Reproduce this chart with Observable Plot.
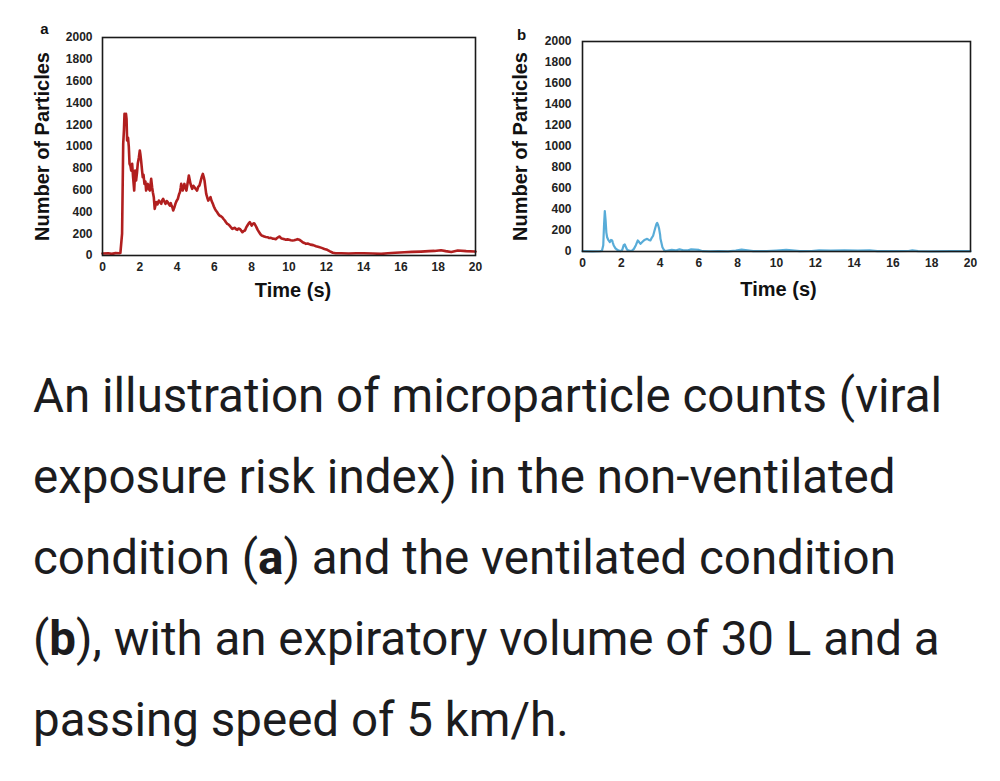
<!DOCTYPE html>
<html>
<head>
<meta charset="utf-8">
<script src="https://cdn.jsdelivr.net/npm/d3@7"></script>
<script src="https://cdn.jsdelivr.net/npm/@observablehq/plot@0.6"></script>
<style>
  html, body { margin: 0; padding: 0; background: #fff; }
  #page { position: relative; width: 1000px; height: 781px; overflow: hidden; }
  #panelA { position: absolute; left: 0; top: 0; }
  #panelB { position: absolute; left: 480px; top: 0; }
  #caption {
    position: absolute; left: 33px; top: 356px; width: 967px;
    font-family: Roboto, "Noto Sans", sans-serif; font-size: 47.5px; line-height: 81px;
    color: #1c1c1e; white-space: nowrap;
  }
</style>
</head>
<body>
<div id="page">
  <div id="panelA"></div>
  <div id="panelB"></div>
  <div id="caption">An illustration of microparticle counts (viral<br>exposure risk index) in the non-ventilated<br>condition (<b>a</b>) and the ventilated condition<br>(<b>b</b>), with an expiratory volume of 30 L and a<br>passing speed of 5 km/h.</div>
</div>
<script>
// ---- data ----
const xTicks = [0, 2, 4, 6, 8, 10, 12, 14, 16, 18, 20];
const yTicks = [0, 200, 400, 600, 800, 1000, 1200, 1400, 1600, 1800, 2000];
const xLabel = "Time (s)";
const yLabel = "Number of Particles";
const panelLabels = ["a", "b"];

// Panel a: non-ventilated
const timeA = [0,0.3,0.5,0.7,0.9,0.96,1.05,1.11,1.15,1.18,1.21,1.23,1.26,1.29,1.32,1.37,1.41,1.45,1.5,1.54,1.59,1.64,1.7,1.75,1.8,1.85,1.89,1.95,2.0,2.03,2.07,2.12,2.16,2.2,2.25,2.3,2.34,2.39,2.43,2.48,2.54,2.58,2.61,2.66,2.7,2.75,2.8,2.84,2.89,2.95,3.02,3.08,3.15,3.2,3.25,3.3,3.38,3.44,3.5,3.56,3.61,3.66,3.7,3.75,3.79,3.85,3.91,3.97,4.04,4.1,4.15,4.19,4.22,4.26,4.3,4.34,4.39,4.44,4.5,4.56,4.6,4.63,4.67,4.72,4.77,4.81,4.87,4.93,5.0,5.07,5.13,5.2,5.26,5.32,5.38,5.43,5.47,5.52,5.56,5.62,5.67,5.73,5.79,5.85,5.92,5.97,6.03,6.09,6.15,6.21,6.27,6.35,6.42,6.49,6.56,6.62,6.69,6.75,6.81,6.88,6.96,7.03,7.1,7.17,7.23,7.3,7.36,7.43,7.5,7.57,7.64,7.7,7.77,7.84,7.9,7.95,8.0,8.06,8.13,8.19,8.25,8.32,8.4,8.47,8.54,8.6,8.67,8.76,8.85,8.94,9.03,9.12,9.2,9.29,9.38,9.44,9.5,9.57,9.65,9.74,9.83,9.92,10.01,10.1,10.19,10.28,10.37,10.46,10.55,10.64,10.73,10.82,10.91,11.0,11.15,11.3,11.45,11.6,11.75,11.9,12.05,12.2,12.35,12.5,12.8,13.2,13.6,14.0,14.5,14.94,15.3,15.7,16.19,16.6,17.08,17.5,17.8,18.15,18.4,18.7,19.05,19.5,19.95,20];
const countA = [18,20,15,22,20,25,200,1024,1150,1299,1220,1208,1300,1250,1055,1080,1000,841,820,779,841,718,596,779,688,760,841,900,963,930,871,780,718,740,657,680,596,640,657,610,596,660,703,627,580,535,428,460,489,470,504,490,474,505,520,500,474,500,489,470,458,480,458,440,413,440,474,500,520,560,581,620,657,620,596,630,657,620,596,660,700,734,700,657,630,611,640,627,610,596,630,642,680,720,749,720,688,620,566,530,504,520,535,500,474,450,428,410,397,380,367,360,351,335,321,305,290,285,275,260,244,250,254,240,235,248,244,230,214,225,229,255,275,295,306,290,275,290,296,280,260,235,214,195,183,180,174,170,168,160,162,155,153,150,162,170,174,160,153,150,144,148,144,140,138,140,144,150,145,135,122,115,107,110,100,95,85,78,70,60,52,38,25,20,20,18,20,21,18,15,20,25,30,33,36,40,42,48,40,32,46,40,36,35];

// Panel b: ventilated
const timeB = [0,0.5,0.9,1.0,1.07,1.11,1.15,1.19,1.23,1.27,1.33,1.41,1.47,1.53,1.57,1.61,1.7,1.79,1.88,1.96,2.05,2.12,2.18,2.24,2.3,2.4,2.47,2.56,2.65,2.75,2.85,2.92,2.99,3.08,3.16,3.25,3.33,3.42,3.5,3.57,3.64,3.7,3.76,3.81,3.85,3.9,3.95,4.0,4.02,4.07,4.12,4.2,4.27,4.4,4.6,4.8,5.0,5.2,5.4,5.6,5.8,6.0,6.2,6.6,7.0,7.5,7.9,8.2,8.5,8.8,9.5,10.0,10.5,10.8,11.2,11.8,12.2,12.8,13.5,14.2,14.8,15.2,16.0,16.8,17.0,17.3,18,19,20];
const countB = [3,2,3,5,60,250,384,300,180,136,110,90,110,105,80,57,30,16,8,3,15,60,67,40,16,8,5,10,25,60,105,90,73,90,105,115,121,110,105,130,150,190,231,260,272,250,216,160,121,80,41,15,3,8,15,10,20,12,10,20,18,15,3,2,3,2,8,18,10,3,3,8,15,10,3,5,10,8,10,8,10,4,3,5,10,4,2,3,3];

const rowsA = timeA.map((t, i) => ({t, v: countA[i]}));
const rowsB = timeB.map((t, i) => ({t, v: countB[i]}));
const fmt = d3.format("d");

function panel(rows, color, sw, width, height, margins, lab, s) {
  return Plot.plot({
    width, height,
    marginLeft: margins[0], marginRight: margins[1], marginTop: margins[2], marginBottom: margins[3],
    style: {fontFamily: "'Liberation Sans', Arial, sans-serif", color: "#222", background: "transparent", overflow: "visible"},
    x: {domain: [0, 20]},
    y: {domain: [0, 2000]},
    marks: [
      Plot.line(rows, {x: "t", y: "v", stroke: color, strokeWidth: sw, strokeLinejoin: "round"}),
      Plot.frame({stroke: "#1a1a1a", strokeWidth: 1.6}),
      Plot.axisX(xTicks, {tickSize: 0, tickPadding: 7, tickFormat: fmt, label: null, fontSize: 12, fontWeight: "bold", fill: "#222"}),
      Plot.axisY(yTicks, {tickSize: 0, tickPadding: s.tp, tickFormat: fmt, label: null, fontSize: 12, fontWeight: "bold", fill: "#222"}),
      Plot.text([xLabel], {frameAnchor: "bottom", textAnchor: "middle", dx: s.xdx, dy: s.xdy, fontSize: 20, fontWeight: "bold", fill: "#111"}),
      Plot.text([yLabel], {frameAnchor: "left", textAnchor: "middle", dx: s.ydx, rotate: -90, fontSize: 20, fontWeight: "bold", fill: "#111"}),
      Plot.text([lab], {frameAnchor: "top-left", textAnchor: "middle", dx: s.adx, dy: s.ady, fontSize: 15, fontWeight: "bold", fill: "#111"})
    ]
  });
}

document.getElementById("panelA").appendChild(
  panel(rowsA, "#b11f1f", 2.6, 490, 310, [102, 15, 37, 55], panelLabels[0],
        {tp: 10, xdx: 4, xdy: 41, ydx: -60, adx: -58, ady: -14}));
document.getElementById("panelB").appendChild(
  panel(rowsB, "#58acd8", 2.2, 510, 310, [102, 20, 41, 59], panelLabels[1],
        {tp: 11, xdx: 2, xdy: 44, ydx: -62, adx: -61, ady: -12}));
</script>
</body>
</html>
